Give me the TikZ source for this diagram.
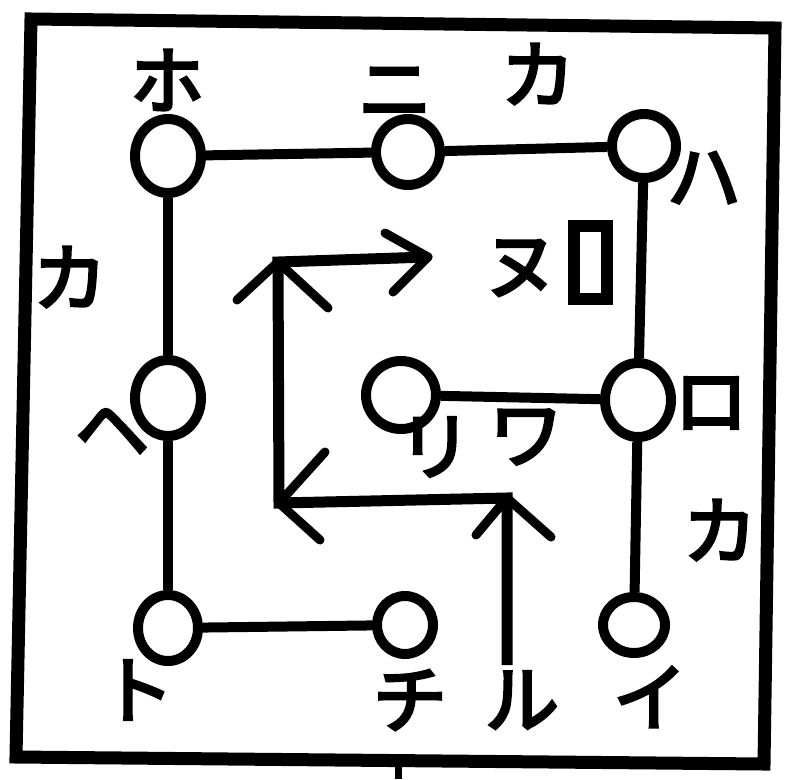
\documentclass[tikz,border=0pt]{standalone}
\usepackage{fontspec}
\newfontfamily\jp[AutoFakeBold=4]{Noto Sans CJK JP}
\usetikzlibrary{shapes.geometric}
\tikzset{
  ring/.style={draw=black, line width=10pt, ellipse, inner sep=0pt},
  wire/.style={draw=black, line width=10pt},
  route/.style={draw=black, line width=11pt, line join=miter},
  barb/.style={draw=black, line width=9pt, line cap=round},
  lbl/.style={font=\jp\bfseries\fontsize{74}{74}\selectfont, inner sep=0pt},
  frame/.style={draw=black, line width=13pt, line join=miter},
  boxsym/.style={draw=black, line width=12pt, minimum width=33pt, minimum height=73pt, inner sep=0pt}
}
\begin{document}
\begin{tikzpicture}[x=1pt,y=-1pt]
\useasboundingbox (0,0) rectangle (791,779);
% frame
\coordinate (f1) at (31,19);
\coordinate (f2) at (775,28);
\coordinate (f3) at (764,764);
\coordinate (f4) at (16,757);
\draw[frame] (f1) -- (f2) -- (f3) -- (f4) -- cycle;
\coordinate (s1) at (398,762);
\coordinate (s2) at (398,779);
\draw[draw=black, line width=7pt] (s1) -- (s2);
% circle nodes
\node[ring, minimum width=66pt, minimum height=74pt] (ho) at (168,156) {};
\node[ring, minimum width=64pt, minimum height=66pt] (ni) at (408,152) {};
\node[ring, minimum width=64pt, minimum height=64pt] (ha) at (644,146) {};
\node[ring, minimum width=66pt, minimum height=76pt] (he) at (168,398) {};
\node[ring, minimum width=60pt, minimum height=66pt] (to) at (168,628) {};
\node[ring, minimum width=56pt, minimum height=58pt] (chi) at (405,625) {};
\node[ring, minimum width=62pt, minimum height=56pt] (i) at (634,625) {};
\node[ring, minimum width=66pt, minimum height=74pt] (ro) at (638,400) {};
\node[ring, minimum width=70pt, minimum height=68pt] (ri) at (401,395) {};
% connectors
\draw[wire] (ho) -- (ni);
\draw[wire] (ni) -- (ha);
\draw[wire] (ha) -- (ro);
\draw[wire] (ro) -- (i);
\draw[wire] (ro) -- (ri);
\draw[wire] (ho) -- (he);
\draw[wire] (he) -- (to);
\draw[wire] (to) -- (chi);
% box symbol
\node[boxsym] (nu) at (590,262) {};
% arrow route
\coordinate (c1) at (507,665);
\coordinate (c2) at (507,498);
\coordinate (c3) at (279,503);
\coordinate (c4) at (278,262);
\coordinate (c5) at (428,257);
\draw[route] (c1) -- (c2) -- (c3) -- (c4) -- (c5);
\draw[barb] (c2) -- ++(-31,37);
\draw[barb] (c2) -- ++(44,39);
\draw[barb] (c3) -- ++(46,-51);
\draw[barb] (c3) -- ++(41,37);
\draw[barb] (c4) -- ++(-41,38);
\draw[barb] (c4) -- ++(50,46);
\draw[barb] (c5) -- ++(-43,-24);
\draw[barb] (c5) -- ++(-35,35);
% labels
\node[lbl] (lho) at (167,80) {ホ};
\node[lbl] (lni) at (395,92) {ニ};
\node[lbl] (lka1) at (538,74) {カ};
\node[lbl] (lha) at (704,178) {ハ};
\node[lbl] (lka2) at (70,277) {カ};
\node[lbl] (lnu) at (521,268) {ヌ};
\node[lbl] (lhe) at (112,432) {ヘ};
\node[lbl] (lto) at (137,690) {ト};
\node[lbl] (lri) at (435,447) {リ};
\node[lbl] (lwa) at (526,437) {ワ};
\node[lbl] (lro) at (711,403) {ロ};
\node[lbl] (lka3) at (720,530) {カ};
\node[lbl] (lchi) at (410,700) {チ};
\node[lbl] (lru) at (522,700) {ル};
\node[lbl] (li) at (650,697) {イ};
\end{tikzpicture}
\end{document}
